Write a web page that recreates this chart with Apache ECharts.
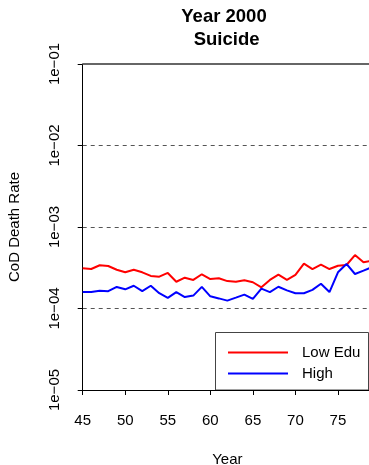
<!DOCTYPE html>
<html>
<head>
<meta charset="utf-8">
<script src="https://cdn.jsdelivr.net/npm/echarts@6/dist/echarts.min.js"></script>
<style>
  html, body { margin: 0; padding: 0; background: #fff; }
  #chart { width: 369px; height: 465px; }
</style>
</head>
<body>
<div id="chart"></div>
<script>
// Suicide death rate by age, year 2000, low vs high education
const ages = [45, 46, 47, 48, 49, 50, 51, 52, 53, 54, 55, 56, 57, 58, 59, 60, 61, 62,
              63, 64, 65, 66, 67, 68, 69, 70, 71, 72, 73, 74, 75, 76, 77, 78, 79];
const lowEdu = [3.11e-4, 3.05e-4, 3.39e-4, 3.32e-4, 2.99e-4, 2.78e-4, 2.99e-4, 2.78e-4, 2.51e-4,
                2.46e-4, 2.73e-4, 2.13e-4, 2.39e-4, 2.24e-4, 2.63e-4, 2.30e-4, 2.35e-4, 2.17e-4,
                2.13e-4, 2.22e-4, 2.10e-4, 1.82e-4, 2.24e-4, 2.60e-4, 2.24e-4, 2.58e-4, 3.55e-4,
                3.05e-4, 3.45e-4, 3.05e-4, 3.35e-4, 3.42e-4, 4.53e-4, 3.69e-4, 3.86e-4];
const highEdu = [1.59e-4, 1.59e-4, 1.65e-4, 1.63e-4, 1.84e-4, 1.72e-4, 1.90e-4, 1.63e-4, 1.90e-4,
                 1.54e-4, 1.35e-4, 1.59e-4, 1.38e-4, 1.44e-4, 1.84e-4, 1.41e-4, 1.33e-4, 1.25e-4,
                 1.36e-4, 1.48e-4, 1.31e-4, 1.75e-4, 1.59e-4, 1.85e-4, 1.67e-4, 1.54e-4, 1.54e-4,
                 1.69e-4, 2.01e-4, 1.59e-4, 2.78e-4, 3.52e-4, 2.65e-4, 2.91e-4, 3.23e-4];
const seriesNames = ['Low Edu', 'High'];
const yTickLabels = ['1e\u221205', '1e\u221204', '1e\u221203', '1e\u221202', '1e\u221201'];

const FONT = '"Liberation Sans", Arial, Helvetica, sans-serif';

const chart = echarts.init(document.getElementById('chart'), null, { renderer: 'canvas' });

chart.setOption({
  animation: false,
  backgroundColor: '#ffffff',
  textStyle: { fontFamily: FONT, color: '#000' },
  title: {
    text: 'Year 2000\n Suicide',
    left: 219,
    top: 0,
    textAlign: 'center',
    textStyle: { fontFamily: FONT, fontSize: 18.5, fontWeight: 'bold', color: '#000', lineHeight: 23 }
  },
  grid: { left: 82.7, top: 64, bottom: 75, right: -3, containLabel: false, outerBoundsMode: 'none' },
  // legend frame
  graphic: [
    {
      type: 'rect',
      z: 3.5,
      silent: true,
      shape: { x: 215.5, y: 332.5, width: 153, height: 57.5 },
      style: { fill: '#fff', stroke: '#444', lineWidth: 1 }
    }
  ],
  legend: {
    data: seriesNames,
    orient: 'vertical',
    left: 215,
    top: 332,
    padding: [13, 20, 11, 13],
    itemWidth: 60,
    itemHeight: 14,
    itemGap: 6,
    icon: 'path://M0,0 L60,0 L60,2 L0,2 Z',
    borderWidth: 0,
    z: 5,
    textStyle: { fontFamily: FONT, fontSize: 15, color: '#000', padding: [0, 0, 0, 9] }
  },
  xAxis: {
    type: 'value',
    min: 45,
    max: 79,
    interval: 5,
    name: 'Year',
    nameLocation: 'middle',
    nameGap: 62,
    nameTextStyle: { fontFamily: FONT, fontSize: 15, color: '#000' },
    axisLine: { show: true, onZero: false, lineStyle: { color: '#000', width: 1 } },
    axisTick: { show: true, length: 5, lineStyle: { color: '#000' } },
    axisLabel: { fontFamily: FONT, fontSize: 15, color: '#000', margin: 23, showMaxLabel: false },
    splitLine: { show: false },
    z: 6
  },
  yAxis: {
    type: 'log',
    logBase: 10,
    min: 1e-5,
    max: 1e-1,
    name: 'CoD Death Rate',
    nameLocation: 'middle',
    nameRotate: 90,
    nameGap: 60,
    nameTextStyle: { fontFamily: FONT, fontSize: 15, color: '#000' },
    axisLine: { show: true, lineStyle: { color: '#000', width: 1 } },
    axisTick: { show: true, length: 5, lineStyle: { color: '#000' } },
    axisLabel: {
      fontFamily: FONT, fontSize: 15, color: '#000', rotate: 90, margin: 20,
      align: 'center', verticalAlign: 'bottom',
      formatter: function (v) {
        const e = Math.round(Math.log10(v));
        return yTickLabels[e + 5] || '';
      }
    },
    splitLine: { show: true, lineStyle: { color: '#555', type: [4, 4], width: 1 } }
  },
  series: [
    {
      name: seriesNames[0],
      type: 'line',
      data: ages.map((a, i) => [a, lowEdu[i]]),
      symbol: 'none',
      lineStyle: { color: '#ff0000', width: 2 },
      itemStyle: { color: '#ff0000' },
      markLine: {
        silent: true,
        symbol: 'none',
        label: { show: false },
        lineStyle: { color: '#666', type: 'solid', width: 2 },
        data: [{ yAxis: 1e-1 }]
      },
      z: 3
    },
    {
      name: seriesNames[1],
      type: 'line',
      data: ages.map((a, i) => [a, highEdu[i]]),
      symbol: 'none',
      lineStyle: { color: '#0000ff', width: 2 },
      itemStyle: { color: '#0000ff' },
      z: 3
    }
  ]
});
</script>
</body>
</html>
